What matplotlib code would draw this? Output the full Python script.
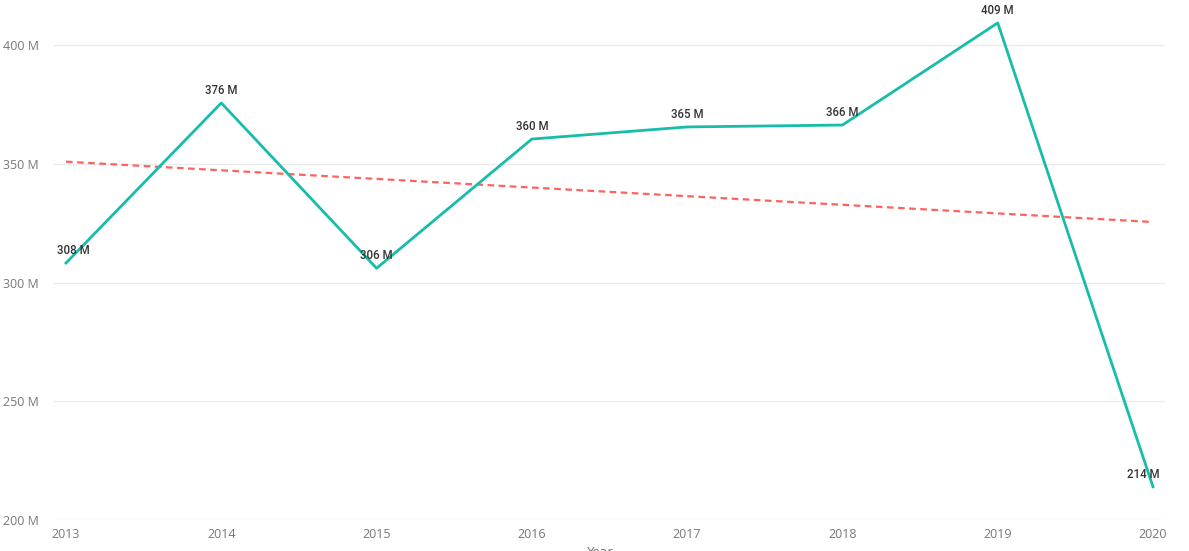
import numpy as np
import matplotlib.pyplot as plt

# values (millions)
years = [2013, 2014, 2015, 2016, 2017, 2018, 2019, 2020]
values = [308.2, 375.6, 306.0, 360.4, 365.5, 366.3, 409.3, 214.0]
labels = ["308 M", "376 M", "306 M", "360 M", "365 M", "366 M", "409 M", "214 M"]
yticks = [200, 250, 300, 350, 400]

line_color = "#17BDAA"
trend_color = "#FD625E"

fig = plt.figure(figsize=(11.89, 5.51), dpi=100)
ax = fig.add_axes([54 / 1189, 31 / 551, (1165 - 54) / 1189, 520 / 551])

# gridlines
for v in yticks:
    ax.axhline(v, color="#ebebeb", lw=1, zorder=0)

ax.plot(years, values, color=line_color, lw=2, zorder=3)

# linear trend line
coef = np.polyfit(years, values, 1)
trend = np.polyval(coef, years)
ax.plot(years, trend, color=trend_color, lw=1.6, ls=(0, (3, 2)), zorder=2)

# data labels (a couple nudged sideways like the original)
nudges = {0: (5, 4.5), 7: (-7, 4.5)}
for i, (x, y, t) in enumerate(zip(years, values, labels)):
    dx, dy = nudges.get(i, (0, 4.5))
    ax.annotate(t, (x, y), xytext=(dx, dy), textcoords="offset points",
                ha="center", va="bottom", fontsize=8.3, color="#333333",
                family="Roboto", fontweight="medium", zorder=5)

px_per_year = (1153 - 66) / 7
ax.set_xlim(2013 - 12 / px_per_year, 2020 + 12 / px_per_year)
ax.set_ylim(200, 400 + 45 / 2.375)

ax.set_xticks(years)
ax.set_xticklabels([str(y) for y in years])
ax.set_yticks(yticks)
ax.set_yticklabels([f"{v} M" for v in yticks])
ax.tick_params(length=0, colors="#777777", labelsize=9)
ax.tick_params(axis="y", pad=11)
ax.tick_params(axis="x", pad=6)
for lbl in ax.get_xticklabels() + ax.get_yticklabels():
    lbl.set_family("Open Sans")

for s in ax.spines.values():
    s.set_visible(False)

# axis title, mostly cut off at the bottom edge in the original
fig.text(600 / 1189, -0.015, "Year", ha="center", va="bottom",
         fontsize=9, color="#777777")

fig.savefig("out.png", dpi=100)
